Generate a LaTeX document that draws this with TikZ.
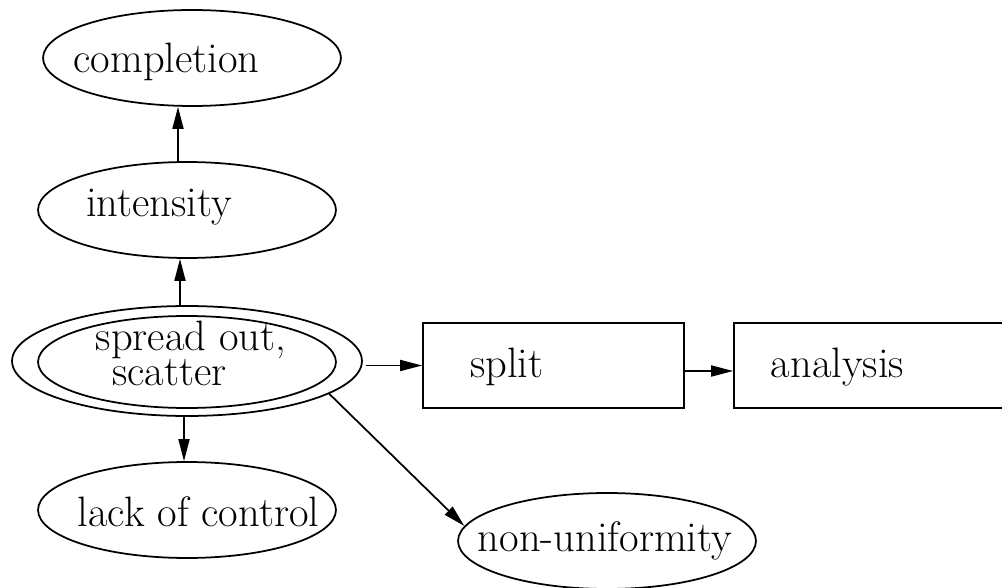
\documentclass[tikz,border=0pt]{standalone}
\usepackage{tikz}
\usetikzlibrary{arrows.meta,shapes.geometric}
\tikzset{
  oval/.style={ellipse, draw, line width=1pt, inner sep=0pt,
               minimum width=5.96cm, minimum height=1.92cm},
  box/.style={rectangle, draw, line width=1pt, inner sep=0pt,
              minimum width=5.22cm, minimum height=1.7cm},
  txt/.style={inner sep=0pt, text height=0pt, text depth=0pt},
  arr/.style={-{Triangle[length=0.44cm,width=0.22cm]}, line width=1pt}
}

\begin{document}
\begin{tikzpicture}[x=0.02cm, y=-0.02cm, font=\fontsize{24.2}{28}\selectfont]
\useasboundingbox (0,0) rectangle (1002,588);

\node[oval, label={[txt, xshift=-0.51cm, yshift=-0.29cm]center:completion}] (completion) at (192,58) {};
\node[oval, label={[txt, xshift=-0.56cm, yshift=-0.14cm]center:intensity}] (intensity) at (187,210) {};
\node[oval, minimum width=7cm, minimum height=2.2cm] (spread) at (187,361) {};
\node[oval, minimum height=1.84cm,
      label={[txt, xshift=0.08cm, yshift=0.23cm]center:spread out,},
      label={[txt, xshift=-0.35cm, yshift=-0.48cm]center:scatter}] (spreadin) at (187,362) {};
\node[oval, label={[txt, xshift=0.23cm, yshift=-0.34cm]center:lack of control}] (lack) at (187,510) {};
\node[oval, label={[txt, xshift=-0.04cm, yshift=-0.22cm]center:non-uniformity}] (nonuni) at (607,541) {};
\node[box, label={[txt, xshift=-0.93cm, yshift=-0.25cm]center:split}] (split) at (553.5,365.5) {};
\node[box, minimum width=5.8cm, label={[txt, xshift=-0.83cm, yshift=-0.25cm]center:analysis}] (analysis) at (879,365.5) {};

\draw[arr] ([xshift=-0.18cm]intensity.north) -- ([xshift=-0.28cm]completion.south);
\draw[arr] ([xshift=-0.14cm]spread.north) -- ([xshift=-0.14cm]intensity.south);
\draw[arr] ([xshift=-0.06cm]spread.south) -- ([xshift=-0.06cm]lack.north);
\draw[arr] ([xshift=0.06cm]spread.east |- split.west) -- (split.west);
\draw[arr] ([yshift=-0.11cm]split.east) -- ([yshift=-0.11cm]analysis.west);
\draw[arr] (spread.-13) -- (nonuni.174);
\end{tikzpicture}
\end{document}
